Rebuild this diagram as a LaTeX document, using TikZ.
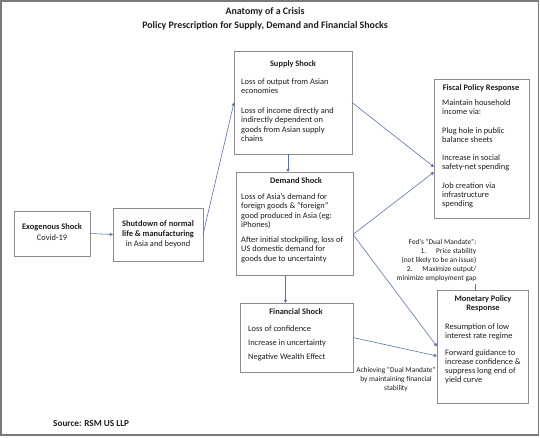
\documentclass[tikz,border=0pt]{standalone}
\usepackage{fontspec}
\setmainfont{Carlito}
\usetikzlibrary{arrows.meta,calc}
\definecolor{boxgray}{HTML}{8C8C8C}
\definecolor{framegray}{HTML}{7A7A7A}
\definecolor{arrblue}{HTML}{5A74A8}
\definecolor{txt}{HTML}{1E1E1E}
\tikzset{
 boxnode/.style={draw=boxgray, line width=0.9pt, fill=white, anchor=north west, inner sep=0pt, outer sep=0pt},
 arr/.style={draw=arrblue, line width=0.6pt, -{Triangle[length=3.2pt,width=3.2pt]}},
 plainline/.style={draw=arrblue, line width=0.6pt},
 hd/.style={font=\fontsize{8.4}{9.7}\selectfont\bfseries, text=txt, inner sep=0pt, anchor=base, align=center},
 bd/.style={font=\fontsize{8.4}{9.6}\selectfont, text=txt, inner sep=0pt, anchor=base west, align=left},
 bdt/.style={font=\fontsize{8.4}{9}\selectfont, text=txt, inner sep=0pt, anchor=base west, align=left},
 sm/.style={font=\fontsize{7.4}{9}\selectfont, text=txt, inner sep=0pt},
 ttl/.style={font=\fontsize{9.9}{14}\selectfont\bfseries, text=txt, inner sep=0pt, anchor=base}
}
\begin{document}
\begin{tikzpicture}[x=1pt,y=-1pt]
\useasboundingbox (0,0) rectangle (540,437);
\fill[white] (0,0) rectangle (540,437);
\draw[framegray, line width=1.5pt] (1,1) rectangle (538.5,435);

% titles
\node[ttl] (t1) at (265,14) {Anatomy of a Crisis};
\node[ttl] (t2) at (265,28) {Policy Prescription for Supply, Demand and Financial Shocks};

% boxes
\node[boxnode, minimum width=76pt, minimum height=45pt] (exo) at (14,211) {};
\node[boxnode, minimum width=90pt, minimum height=53pt] (shut) at (113,208) {};
\node[boxnode, minimum width=118pt, minimum height=103pt] (sup) at (234,51) {};
\node[boxnode, minimum width=117pt, minimum height=103pt] (dem) at (236,172) {};
\node[boxnode, minimum width=113pt, minimum height=69pt] (fin) at (240,303) {};
\node[boxnode, minimum width=95pt, minimum height=139pt] (fis) at (434,79) {};
\node[boxnode, minimum width=91pt, minimum height=113pt] (mon) at (437,290) {};

% exo text
\node[hd] (exoh) at (52,229) {Exogenous Shock};
\node[hd, font=\fontsize{8.4}{9.7}\selectfont] (exob) at (52,240) {Covid-19};

% shutdown text
\node[hd] (shuth1) at (158,226) {Shutdown of normal};
\node[hd] (shuth2) at (158,236) {life \& manufacturing};
\node[hd, font=\fontsize{8.4}{9.7}\selectfont] (shutb) at (158,246) {in Asia and beyond};

% supply text (anchor = baseline of last line)
\node[hd] (suph) at (293,66) {Supply Shock};
\node[bd] (supb1) at (241,93.6) {Loss of output from Asian\\economies};
\node[bd] (supb2) at (241,141.8) {Loss of income directly and\\indirectly dependent on\\goods from Asian supply\\chains};

% demand text
\node[hd] (demh) at (296,183) {Demand Shock};
\node[bd] (demb1) at (241,227.8) {Loss of Asia’s demand for\\foreign goods \& “foreign”\\good produced in Asia (eg:\\iPhones)};
\node[bd] (demb2) at (241,261.2) {After initial stockpiling, loss of\\US domestic demand for\\goods due to uncertainty};

% financial text
\node[hd] (finh) at (296,314) {Financial Shock};
\node[bd] (finb1) at (248,331) {Loss of confidence};
\node[bd] (finb2) at (248,345) {Increase in uncertainty};
\node[bd] (finb3) at (248,359) {Negative Wealth Effect};

% fiscal text
\node[hd] (fish) at (481,90) {Fiscal Policy Response};
\node[bdt] (fisb1) at (442,114) {Maintain household\\income via:};
\node[bdt] (fisb2) at (442,142) {Plug hole in public\\balance sheets};
\node[bdt] (fisb3) at (442,169) {Increase in social\\safety-net spending};
\node[bdt] (fisb4) at (442,206) {Job creation via\\infrastructure\\spending};

% monetary text
\node[hd] (monh) at (483,310.7) {Monetary Policy\\Response};
\node[bdt] (monb1) at (445,338) {Resumption of low\\interest rate regime};
\node[bdt] (monb2) at (445,382) {Forward guidance to\\increase confidence \&\\suppress long end of\\yield curve};

% annotations
\node[sm, anchor=north east, align=right] (fed) at (476.5,239) {Fed’s “Dual Mandate”:\\1.\hspace{10pt}Price stability\\(not likely to be an issue)\\2.\hspace{10pt}Maximize output/\\minimize employment gap};
\node[sm, anchor=north, align=center] (ach) at (396,367) {Achieving “Dual Mandate”\\by maintaining financial\\stability};

\node[ttl, font=\fontsize{9.2}{9}\selectfont\bfseries, anchor=base west] (src) at (53,426) {Source: RSM US LLP};

% connectors
\draw[arr] (exo.east) -- (shut.west);
\draw[arr] (shut.east) -- (sup.west);
\draw[arr] ([xshift=-5pt]sup.south) -- ([xshift=-6.5pt]dem.north);
\draw[arr] ([xshift=-9pt]dem.south) -- ([xshift=-9pt]dem.south |- fin.north);
\draw[arr] (sup.east) -- ([yshift=-18.5pt]fis.west);
\draw[arr] ([yshift=-11pt]dem.east) -- ([yshift=-23.5pt]fis.west);
\draw[arr] ([yshift=-11pt]dem.east) -- (mon.west);
\draw[arr] (fin.east) -- ([yshift=-9.5pt]mon.west);
\draw[plainline] ([xshift=-1pt,yshift=-2pt]fed.south east) -- ([xshift=-1pt]fed.south east |- mon.north);
\end{tikzpicture}
\end{document}
